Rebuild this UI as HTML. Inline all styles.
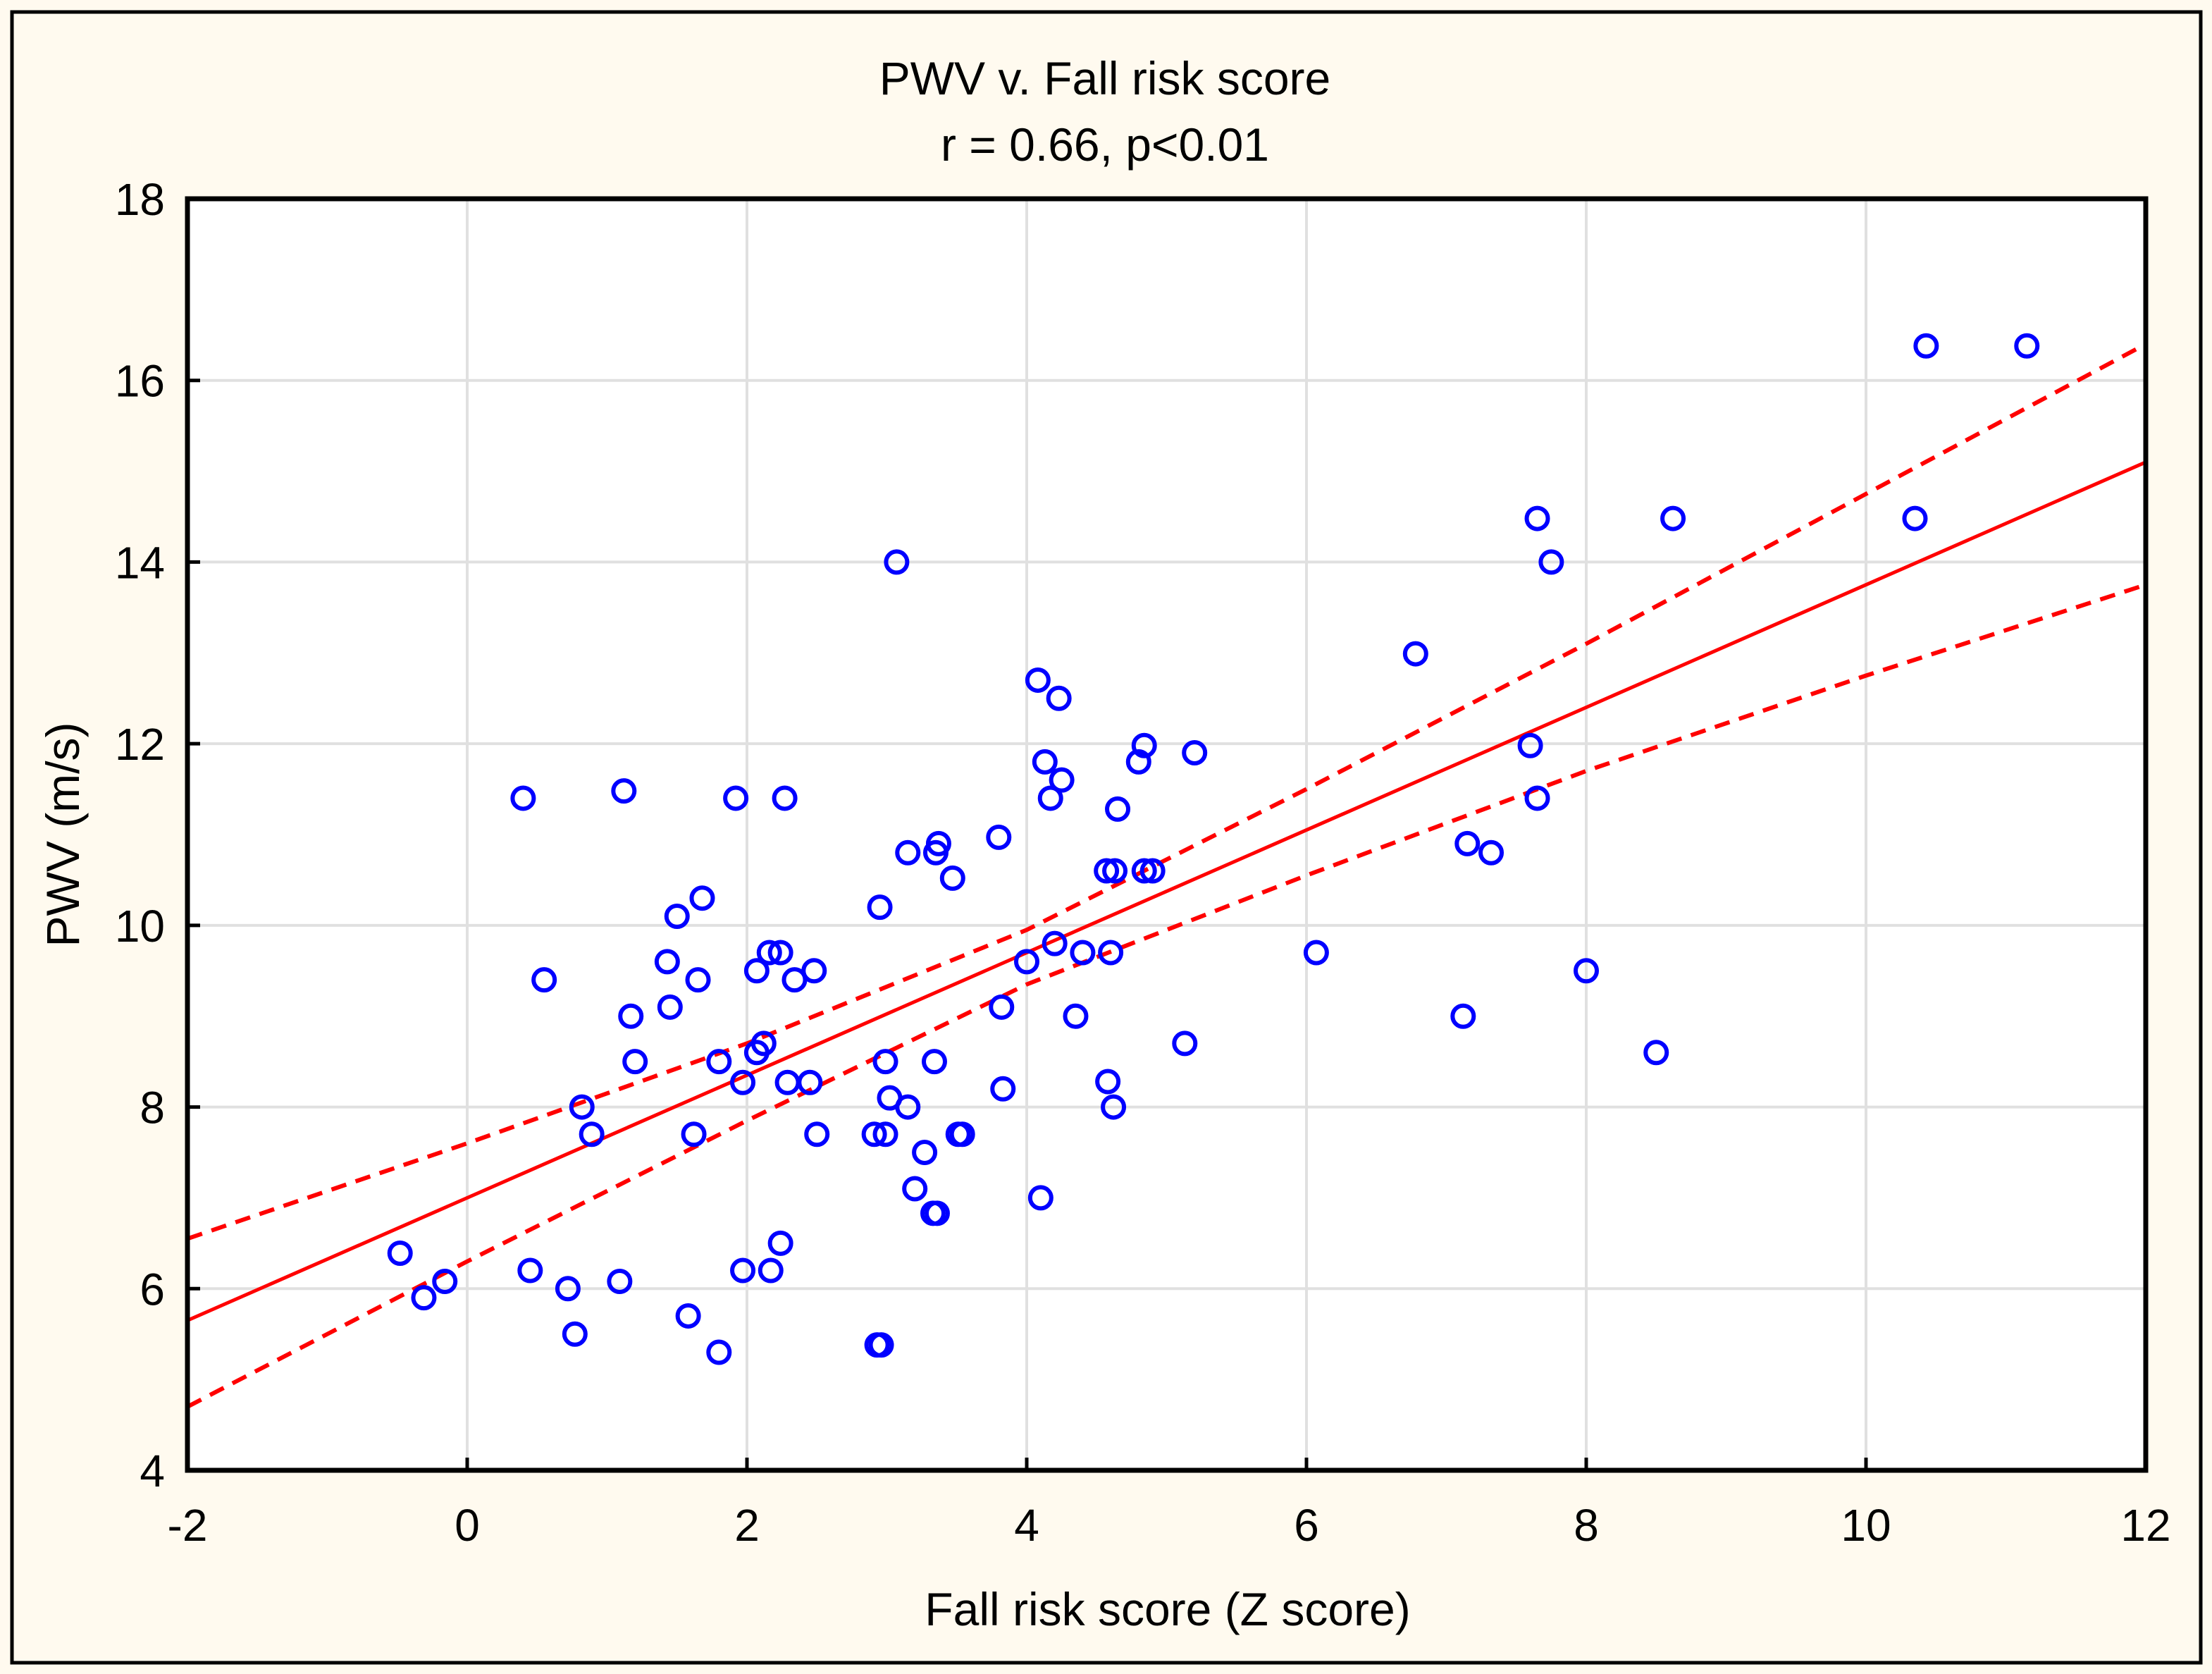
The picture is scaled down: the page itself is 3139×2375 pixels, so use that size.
<!DOCTYPE html>
<html><head><meta charset="utf-8"><style>
html,body{margin:0;padding:0;background:#fffaef;}
svg{display:block;font-family:"Liberation Sans",Arial,sans-serif;}
</style></head><body>
<svg id="chart" width="3139" height="2375" viewBox="0 0 3139 2375" xmlns="http://www.w3.org/2000/svg">
<rect x="0" y="0" width="3139" height="2375" fill="#fffaef"/>
<rect x="17" y="17" width="3106" height="2342" fill="none" stroke="#000" stroke-width="5"/>
<text x="1568" y="134" text-anchor="middle" font-size="66">PWV v. Fall risk score</text>
<text x="1568" y="228" text-anchor="middle" font-size="66">r = 0.66, p&lt;0.01</text>
<rect x="266" y="282" width="2779" height="1804" fill="#fff"/>
<g id="grid"></g>
<g id="lines"></g>
<g id="points"></g>
<rect x="266" y="282" width="2779" height="1804" fill="none" stroke="#000" stroke-width="7"/>
<g id="ticks"></g>
<text x="1657" y="2306" text-anchor="middle" font-size="66">Fall risk score (Z score)</text>
<text x="0" y="0" transform="translate(112,1184) rotate(-90)" text-anchor="middle" font-size="66">PWV (m/s)</text>
</svg>
<script>
const xTicks = [-2,0,2,4,6,8,10,12];
const yTicks = [4,6,8,10,12,14,16,18];
const ptX = [-0.48,-0.31,-0.16,0.40,0.45,0.55,0.72,0.77,0.82,0.89,1.09,1.12,1.17,1.20,1.43,1.45,1.50,1.58,1.62,1.65,1.68,1.80,1.80,1.92,1.97,1.97,2.07,2.07,2.12,2.16,2.17,2.24,2.24,2.27,2.29,2.34,2.45,2.48,2.50,2.91,2.93,2.96,2.95,2.99,2.99,3.02,3.07,3.15,3.15,3.20,3.27,3.33,3.36,3.34,3.35,3.37,3.47,3.51,3.54,3.80,3.82,3.83,4.00,4.08,4.10,4.13,4.17,4.20,4.23,4.25,4.35,4.40,4.57,4.58,4.60,4.62,4.63,4.65,4.80,4.84,4.84,4.90,5.13,5.20,6.07,6.78,7.12,7.15,7.32,7.60,7.65,7.65,7.75,8.00,8.50,8.62,10.35,10.43,11.15];
const ptY = [6.39,5.9,6.08,11.4,6.2,9.4,6.0,5.5,8.0,7.7,6.08,11.48,9.0,8.5,9.6,9.1,10.1,5.7,7.7,9.4,10.3,8.5,5.3,11.4,8.27,6.2,9.5,8.6,8.7,9.7,6.2,9.7,6.5,11.4,8.27,9.4,8.27,9.5,7.7,7.7,5.38,5.38,10.2,8.5,7.7,8.1,14.0,8.0,10.8,7.1,7.5,6.83,6.83,8.5,10.8,10.9,10.52,7.7,7.7,10.97,9.1,8.2,9.6,12.7,7.0,11.8,11.4,9.8,12.5,11.6,9.0,9.7,10.6,8.28,9.7,8.0,10.6,11.28,11.8,11.98,10.6,10.6,8.7,11.9,9.7,12.99,9.0,10.9,10.8,11.98,14.48,11.4,14.0,9.5,8.6,14.48,14.48,16.38,16.38];
const fitX = [-2,12];
const fitY = [5.65,15.1];
const ciX = [-2,0,2,4,6,8,10,12];
const ciUpper = [6.55,7.6,8.7,9.95,11.5,13.1,14.75,16.4];
const ciLower = [4.7,6.3,7.85,9.35,10.55,11.7,12.75,13.75];

const NS="http://www.w3.org/2000/svg";
const X0=266,X1=3045,Y0=2086,Y1=282;
function sx(v){return X0+(v-(-2))/(14)*(X1-X0);}
function sy(v){return Y0-(v-4)/(14)*(Y0-Y1);}
function mk(tag,attrs,parent){const e=document.createElementNS(NS,tag);for(const k in attrs)e.setAttribute(k,attrs[k]);document.getElementById(parent).appendChild(e);return e;}

xTicks.forEach(t=>{
  if(t>-2&&t<12){const g=mk('line',{x1:sx(t),x2:sx(t),y1:Y1,y2:Y0,stroke:'#e0e0e0','stroke-width':4},'grid');
  
  }
  const tk=mk('line',{x1:sx(t),x2:sx(t),y1:Y0,y2:Y0-18,stroke:'#000','stroke-width':5},'ticks');
  
  
  const l=mk('text',{x:sx(t),y:2186,'text-anchor':'middle','font-size':64},'ticks');
  l.textContent=t;
  
  
});
yTicks.forEach(t=>{
  if(t>4&&t<18){const g=mk('line',{x1:X0,x2:X1,y1:sy(t),y2:sy(t),stroke:'#e0e0e0','stroke-width':4},'grid');
  
  }
  const tk=mk('line',{x1:X0,x2:X0+18,y1:sy(t),y2:sy(t),stroke:'#000','stroke-width':5},'ticks');
  
  
  const l=mk('text',{x:234,y:sy(t)+23,'text-anchor':'end','font-size':64},'ticks');
  l.textContent=t;
  
  
});
const fit=mk('line',{x1:sx(fitX[0]),y1:sy(fitY[0]),x2:sx(fitX[1]),y2:sy(fitY[1]),stroke:'#f00','stroke-width':5},'lines');


function pl(xs,ys){return xs.map((x,i)=>sx(x)+','+sy(ys[i])).join(' ');}
const up=mk('polyline',{points:pl(ciX,ciUpper),fill:'none',stroke:'#f00','stroke-width':6,'stroke-dasharray':'22 14'},'lines');


const lo=mk('polyline',{points:pl(ciX,ciLower),fill:'none',stroke:'#f00','stroke-width':6,'stroke-dasharray':'22 14'},'lines');


ptX.forEach((x,i)=>{
  const c=mk('circle',{cx:sx(x),cy:sy(ptY[i]),r:15,fill:'none',stroke:'#0000ff','stroke-width':6},'points');
  
  
});
</script>
</body></html>
